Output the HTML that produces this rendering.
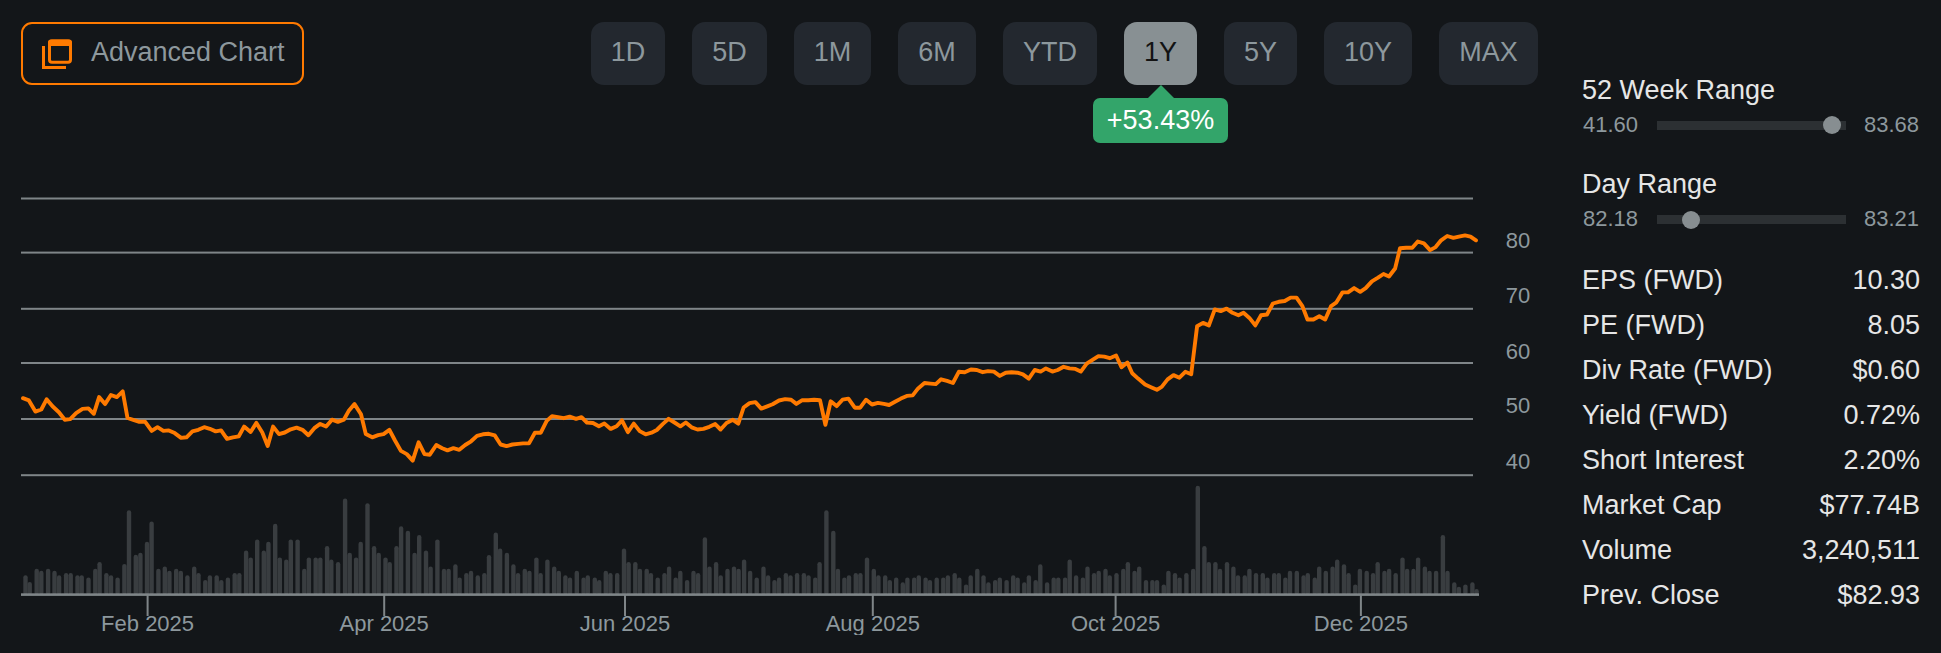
<!DOCTYPE html>
<html><head><meta charset="utf-8">
<style>
html,body{margin:0;padding:0;}
body{width:1941px;height:653px;background:#131619;position:relative;overflow:hidden;font-family:"Liberation Sans",sans-serif;}
.abs{position:absolute;}
#adv{position:absolute;left:21px;top:22px;width:279px;height:59px;border:2px solid #ff7a00;border-radius:11px;box-sizing:content-box;}
#adv span{position:absolute;left:68px;top:13px;font-size:27px;line-height:31px;color:#8d989d;white-space:nowrap;}
.pb{position:absolute;top:22px;height:63px;background:#23282f;border-radius:13px;color:#8d989d;font-size:27px;line-height:60px;text-align:center;}
.pb.act{background:#889093;color:#131313;}
#chg{position:absolute;left:1093px;top:98px;width:135px;height:45px;background:#33a56a;border-radius:7px;color:#fff;font-size:27px;line-height:45px;text-align:center;}
#tri{position:absolute;left:1148px;top:85px;width:0;height:0;border-left:13px solid transparent;border-right:13px solid transparent;border-bottom:13px solid #33a56a;}
.yl{position:absolute;left:1490px;width:56px;text-align:center;font-size:22px;line-height:22px;color:#8d989d;}
.xl{position:absolute;top:611px;width:160px;height:23.5px;overflow:hidden;text-align:center;font-size:22px;line-height:26px;color:#8d989d;}
.rt{position:absolute;left:1582px;font-size:27px;line-height:30px;color:#e6e6e6;white-space:nowrap;}
.rv{position:absolute;font-size:22px;line-height:24px;color:#8d989d;white-space:nowrap;}
.track{position:absolute;left:1657px;width:189px;height:9px;background:#2c3033;}
.knob{position:absolute;width:18px;height:18px;border-radius:50%;background:#878e91;}
.sk{position:absolute;left:1582px;font-size:27px;line-height:30px;color:#e6e6e6;white-space:nowrap;}
.sv{position:absolute;right:21px;font-size:27px;line-height:30px;color:#e6e6e6;white-space:nowrap;text-align:right;}
svg{position:absolute;left:0;top:0;}
</style></head><body>
<svg width="1941" height="653" viewBox="0 0 1941 653">
<rect x="21" y="197.5" width="1452" height="2" fill="#7f8588"/>
<rect x="21" y="251.6" width="1452" height="2" fill="#7f8588"/>
<rect x="21" y="307.8" width="1452" height="2" fill="#7f8588"/>
<rect x="21" y="362.0" width="1452" height="2" fill="#7f8588"/>
<rect x="21" y="418.0" width="1452" height="2" fill="#7f8588"/>
<rect x="21" y="474.2" width="1452" height="2" fill="#7f8588"/>
<rect x="23.30" y="575.3" width="4.4" height="19.3" rx="2.2" fill="#393d40"/>
<rect x="27.50" y="581.9" width="4.4" height="12.7" rx="2.2" fill="#393d40"/>
<rect x="34.50" y="568.8" width="4.4" height="25.8" rx="2.2" fill="#393d40"/>
<rect x="39.10" y="570.7" width="4.4" height="23.9" rx="2.2" fill="#393d40"/>
<rect x="45.90" y="568.8" width="4.4" height="25.8" rx="2.2" fill="#393d40"/>
<rect x="52.30" y="570.7" width="4.4" height="23.9" rx="2.2" fill="#393d40"/>
<rect x="56.90" y="575.3" width="4.4" height="19.3" rx="2.2" fill="#393d40"/>
<rect x="63.90" y="573.1" width="4.4" height="21.5" rx="2.2" fill="#393d40"/>
<rect x="68.50" y="573.1" width="4.4" height="21.5" rx="2.2" fill="#393d40"/>
<rect x="75.30" y="575.3" width="4.4" height="19.3" rx="2.2" fill="#393d40"/>
<rect x="79.50" y="575.3" width="4.4" height="19.3" rx="2.2" fill="#393d40"/>
<rect x="86.30" y="577.6" width="4.4" height="17.0" rx="2.2" fill="#393d40"/>
<rect x="93.10" y="568.8" width="4.4" height="25.8" rx="2.2" fill="#393d40"/>
<rect x="97.40" y="562.0" width="4.4" height="32.6" rx="2.2" fill="#393d40"/>
<rect x="104.20" y="573.1" width="4.4" height="21.5" rx="2.2" fill="#393d40"/>
<rect x="108.80" y="575.3" width="4.4" height="19.3" rx="2.2" fill="#393d40"/>
<rect x="115.40" y="577.6" width="4.4" height="17.0" rx="2.2" fill="#393d40"/>
<rect x="122.20" y="563.9" width="4.4" height="30.7" rx="2.2" fill="#393d40"/>
<rect x="126.80" y="510.2" width="4.4" height="84.4" rx="2.2" fill="#393d40"/>
<rect x="133.60" y="554.7" width="4.4" height="39.9" rx="2.2" fill="#393d40"/>
<rect x="138.20" y="552.8" width="4.4" height="41.8" rx="2.2" fill="#393d40"/>
<rect x="144.80" y="541.8" width="4.4" height="52.8" rx="2.2" fill="#393d40"/>
<rect x="149.40" y="521.6" width="4.4" height="73.0" rx="2.2" fill="#393d40"/>
<rect x="156.20" y="568.8" width="4.4" height="25.8" rx="2.2" fill="#393d40"/>
<rect x="162.60" y="566.6" width="4.4" height="28.0" rx="2.2" fill="#393d40"/>
<rect x="167.20" y="570.7" width="4.4" height="23.9" rx="2.2" fill="#393d40"/>
<rect x="174.00" y="568.8" width="4.4" height="25.8" rx="2.2" fill="#393d40"/>
<rect x="178.60" y="570.7" width="4.4" height="23.9" rx="2.2" fill="#393d40"/>
<rect x="185.20" y="575.3" width="4.4" height="19.3" rx="2.2" fill="#393d40"/>
<rect x="192.00" y="566.6" width="4.4" height="28.0" rx="2.2" fill="#393d40"/>
<rect x="196.30" y="573.1" width="4.4" height="21.5" rx="2.2" fill="#393d40"/>
<rect x="203.10" y="579.9" width="4.4" height="14.7" rx="2.2" fill="#393d40"/>
<rect x="207.70" y="575.3" width="4.4" height="19.3" rx="2.2" fill="#393d40"/>
<rect x="214.50" y="575.3" width="4.4" height="19.3" rx="2.2" fill="#393d40"/>
<rect x="219.10" y="579.9" width="4.4" height="14.7" rx="2.2" fill="#393d40"/>
<rect x="225.70" y="577.6" width="4.4" height="17.0" rx="2.2" fill="#393d40"/>
<rect x="232.50" y="573.1" width="4.4" height="21.5" rx="2.2" fill="#393d40"/>
<rect x="237.10" y="573.1" width="4.4" height="21.5" rx="2.2" fill="#393d40"/>
<rect x="243.90" y="550.6" width="4.4" height="44.0" rx="2.2" fill="#393d40"/>
<rect x="248.50" y="557.4" width="4.4" height="37.2" rx="2.2" fill="#393d40"/>
<rect x="255.00" y="539.4" width="4.4" height="55.2" rx="2.2" fill="#393d40"/>
<rect x="261.60" y="550.6" width="4.4" height="44.0" rx="2.2" fill="#393d40"/>
<rect x="266.20" y="541.8" width="4.4" height="52.8" rx="2.2" fill="#393d40"/>
<rect x="273.00" y="523.8" width="4.4" height="70.8" rx="2.2" fill="#393d40"/>
<rect x="277.60" y="557.4" width="4.4" height="37.2" rx="2.2" fill="#393d40"/>
<rect x="284.10" y="559.6" width="4.4" height="35.0" rx="2.2" fill="#393d40"/>
<rect x="288.60" y="539.4" width="4.4" height="55.2" rx="2.2" fill="#393d40"/>
<rect x="295.40" y="539.4" width="4.4" height="55.2" rx="2.2" fill="#393d40"/>
<rect x="302.10" y="568.8" width="4.4" height="25.8" rx="2.2" fill="#393d40"/>
<rect x="306.70" y="557.4" width="4.4" height="37.2" rx="2.2" fill="#393d40"/>
<rect x="313.50" y="557.4" width="4.4" height="37.2" rx="2.2" fill="#393d40"/>
<rect x="318.10" y="557.4" width="4.4" height="37.2" rx="2.2" fill="#393d40"/>
<rect x="324.90" y="546.0" width="4.4" height="48.6" rx="2.2" fill="#393d40"/>
<rect x="329.10" y="559.6" width="4.4" height="35.0" rx="2.2" fill="#393d40"/>
<rect x="335.90" y="562.0" width="4.4" height="32.6" rx="2.2" fill="#393d40"/>
<rect x="342.90" y="498.6" width="4.4" height="96.0" rx="2.2" fill="#393d40"/>
<rect x="347.50" y="552.8" width="4.4" height="41.8" rx="2.2" fill="#393d40"/>
<rect x="353.90" y="557.4" width="4.4" height="37.2" rx="2.2" fill="#393d40"/>
<rect x="358.50" y="541.8" width="4.4" height="52.8" rx="2.2" fill="#393d40"/>
<rect x="365.30" y="503.2" width="4.4" height="91.4" rx="2.2" fill="#393d40"/>
<rect x="371.90" y="546.0" width="4.4" height="48.6" rx="2.2" fill="#393d40"/>
<rect x="376.50" y="552.8" width="4.4" height="41.8" rx="2.2" fill="#393d40"/>
<rect x="383.30" y="557.4" width="4.4" height="37.2" rx="2.2" fill="#393d40"/>
<rect x="387.50" y="562.0" width="4.4" height="32.6" rx="2.2" fill="#393d40"/>
<rect x="394.30" y="546.0" width="4.4" height="48.6" rx="2.2" fill="#393d40"/>
<rect x="398.90" y="526.2" width="4.4" height="68.4" rx="2.2" fill="#393d40"/>
<rect x="405.70" y="530.8" width="4.4" height="63.8" rx="2.2" fill="#393d40"/>
<rect x="412.40" y="552.8" width="4.4" height="41.8" rx="2.2" fill="#393d40"/>
<rect x="417.00" y="535.0" width="4.4" height="59.6" rx="2.2" fill="#393d40"/>
<rect x="423.80" y="550.6" width="4.4" height="44.0" rx="2.2" fill="#393d40"/>
<rect x="428.40" y="566.6" width="4.4" height="28.0" rx="2.2" fill="#393d40"/>
<rect x="435.20" y="539.4" width="4.4" height="55.2" rx="2.2" fill="#393d40"/>
<rect x="441.80" y="568.8" width="4.4" height="25.8" rx="2.2" fill="#393d40"/>
<rect x="446.40" y="568.8" width="4.4" height="25.8" rx="2.2" fill="#393d40"/>
<rect x="453.20" y="564.2" width="4.4" height="30.4" rx="2.2" fill="#393d40"/>
<rect x="457.40" y="577.6" width="4.4" height="17.0" rx="2.2" fill="#393d40"/>
<rect x="464.20" y="573.1" width="4.4" height="21.5" rx="2.2" fill="#393d40"/>
<rect x="468.80" y="570.7" width="4.4" height="23.9" rx="2.2" fill="#393d40"/>
<rect x="475.60" y="575.3" width="4.4" height="19.3" rx="2.2" fill="#393d40"/>
<rect x="482.20" y="573.1" width="4.4" height="21.5" rx="2.2" fill="#393d40"/>
<rect x="486.80" y="555.0" width="4.4" height="39.6" rx="2.2" fill="#393d40"/>
<rect x="493.60" y="532.6" width="4.4" height="62.0" rx="2.2" fill="#393d40"/>
<rect x="497.90" y="548.6" width="4.4" height="46.0" rx="2.2" fill="#393d40"/>
<rect x="504.70" y="552.8" width="4.4" height="41.8" rx="2.2" fill="#393d40"/>
<rect x="511.20" y="564.2" width="4.4" height="30.4" rx="2.2" fill="#393d40"/>
<rect x="515.80" y="573.1" width="4.4" height="21.5" rx="2.2" fill="#393d40"/>
<rect x="522.60" y="568.8" width="4.4" height="25.8" rx="2.2" fill="#393d40"/>
<rect x="527.20" y="570.7" width="4.4" height="23.9" rx="2.2" fill="#393d40"/>
<rect x="534.20" y="557.4" width="4.4" height="37.2" rx="2.2" fill="#393d40"/>
<rect x="538.40" y="573.1" width="4.4" height="21.5" rx="2.2" fill="#393d40"/>
<rect x="545.20" y="559.6" width="4.4" height="35.0" rx="2.2" fill="#393d40"/>
<rect x="552.00" y="566.6" width="4.4" height="28.0" rx="2.2" fill="#393d40"/>
<rect x="556.60" y="570.7" width="4.4" height="23.9" rx="2.2" fill="#393d40"/>
<rect x="563.20" y="575.3" width="4.4" height="19.3" rx="2.2" fill="#393d40"/>
<rect x="567.80" y="577.6" width="4.4" height="17.0" rx="2.2" fill="#393d40"/>
<rect x="574.60" y="570.7" width="4.4" height="23.9" rx="2.2" fill="#393d40"/>
<rect x="581.40" y="577.6" width="4.4" height="17.0" rx="2.2" fill="#393d40"/>
<rect x="585.60" y="575.3" width="4.4" height="19.3" rx="2.2" fill="#393d40"/>
<rect x="592.60" y="577.6" width="4.4" height="17.0" rx="2.2" fill="#393d40"/>
<rect x="597.00" y="579.9" width="4.4" height="14.7" rx="2.2" fill="#393d40"/>
<rect x="603.60" y="570.7" width="4.4" height="23.9" rx="2.2" fill="#393d40"/>
<rect x="608.20" y="573.1" width="4.4" height="21.5" rx="2.2" fill="#393d40"/>
<rect x="615.00" y="573.1" width="4.4" height="21.5" rx="2.2" fill="#393d40"/>
<rect x="621.80" y="548.6" width="4.4" height="46.0" rx="2.2" fill="#393d40"/>
<rect x="626.40" y="562.0" width="4.4" height="32.6" rx="2.2" fill="#393d40"/>
<rect x="633.10" y="562.0" width="4.4" height="32.6" rx="2.2" fill="#393d40"/>
<rect x="637.70" y="568.8" width="4.4" height="25.8" rx="2.2" fill="#393d40"/>
<rect x="644.50" y="568.8" width="4.4" height="25.8" rx="2.2" fill="#393d40"/>
<rect x="648.70" y="573.1" width="4.4" height="21.5" rx="2.2" fill="#393d40"/>
<rect x="655.50" y="577.6" width="4.4" height="17.0" rx="2.2" fill="#393d40"/>
<rect x="662.30" y="573.1" width="4.4" height="21.5" rx="2.2" fill="#393d40"/>
<rect x="666.90" y="566.6" width="4.4" height="28.0" rx="2.2" fill="#393d40"/>
<rect x="673.50" y="577.6" width="4.4" height="17.0" rx="2.2" fill="#393d40"/>
<rect x="678.10" y="570.7" width="4.4" height="23.9" rx="2.2" fill="#393d40"/>
<rect x="684.90" y="579.9" width="4.4" height="14.7" rx="2.2" fill="#393d40"/>
<rect x="691.30" y="570.7" width="4.4" height="23.9" rx="2.2" fill="#393d40"/>
<rect x="695.90" y="573.1" width="4.4" height="21.5" rx="2.2" fill="#393d40"/>
<rect x="702.70" y="537.2" width="4.4" height="57.4" rx="2.2" fill="#393d40"/>
<rect x="707.30" y="566.6" width="4.4" height="28.0" rx="2.2" fill="#393d40"/>
<rect x="713.90" y="562.0" width="4.4" height="32.6" rx="2.2" fill="#393d40"/>
<rect x="718.50" y="575.3" width="4.4" height="19.3" rx="2.2" fill="#393d40"/>
<rect x="725.30" y="568.8" width="4.4" height="25.8" rx="2.2" fill="#393d40"/>
<rect x="731.80" y="566.6" width="4.4" height="28.0" rx="2.2" fill="#393d40"/>
<rect x="736.40" y="568.8" width="4.4" height="25.8" rx="2.2" fill="#393d40"/>
<rect x="741.90" y="559.6" width="4.4" height="35.0" rx="2.2" fill="#393d40"/>
<rect x="747.90" y="570.7" width="4.4" height="23.9" rx="2.2" fill="#393d40"/>
<rect x="754.50" y="577.6" width="4.4" height="17.0" rx="2.2" fill="#393d40"/>
<rect x="761.30" y="566.6" width="4.4" height="28.0" rx="2.2" fill="#393d40"/>
<rect x="765.90" y="575.3" width="4.4" height="19.3" rx="2.2" fill="#393d40"/>
<rect x="772.30" y="579.9" width="4.4" height="14.7" rx="2.2" fill="#393d40"/>
<rect x="776.90" y="577.6" width="4.4" height="17.0" rx="2.2" fill="#393d40"/>
<rect x="783.70" y="573.1" width="4.4" height="21.5" rx="2.2" fill="#393d40"/>
<rect x="788.30" y="575.3" width="4.4" height="19.3" rx="2.2" fill="#393d40"/>
<rect x="794.90" y="573.1" width="4.4" height="21.5" rx="2.2" fill="#393d40"/>
<rect x="801.70" y="573.1" width="4.4" height="21.5" rx="2.2" fill="#393d40"/>
<rect x="806.30" y="575.3" width="4.4" height="19.3" rx="2.2" fill="#393d40"/>
<rect x="813.10" y="577.6" width="4.4" height="17.0" rx="2.2" fill="#393d40"/>
<rect x="817.40" y="562.0" width="4.4" height="32.6" rx="2.2" fill="#393d40"/>
<rect x="824.20" y="510.2" width="4.4" height="84.4" rx="2.2" fill="#393d40"/>
<rect x="831.10" y="530.8" width="4.4" height="63.8" rx="2.2" fill="#393d40"/>
<rect x="835.70" y="568.8" width="4.4" height="25.8" rx="2.2" fill="#393d40"/>
<rect x="842.20" y="577.6" width="4.4" height="17.0" rx="2.2" fill="#393d40"/>
<rect x="846.80" y="575.3" width="4.4" height="19.3" rx="2.2" fill="#393d40"/>
<rect x="853.60" y="573.1" width="4.4" height="21.5" rx="2.2" fill="#393d40"/>
<rect x="858.20" y="573.1" width="4.4" height="21.5" rx="2.2" fill="#393d40"/>
<rect x="864.80" y="557.4" width="4.4" height="37.2" rx="2.2" fill="#393d40"/>
<rect x="871.60" y="568.8" width="4.4" height="25.8" rx="2.2" fill="#393d40"/>
<rect x="876.20" y="575.3" width="4.4" height="19.3" rx="2.2" fill="#393d40"/>
<rect x="883.00" y="575.3" width="4.4" height="19.3" rx="2.2" fill="#393d40"/>
<rect x="887.60" y="579.9" width="4.4" height="14.7" rx="2.2" fill="#393d40"/>
<rect x="894.00" y="577.6" width="4.4" height="17.0" rx="2.2" fill="#393d40"/>
<rect x="900.60" y="582.2" width="4.4" height="12.4" rx="2.2" fill="#393d40"/>
<rect x="905.20" y="577.6" width="4.4" height="17.0" rx="2.2" fill="#393d40"/>
<rect x="912.00" y="577.6" width="4.4" height="17.0" rx="2.2" fill="#393d40"/>
<rect x="916.60" y="575.3" width="4.4" height="19.3" rx="2.2" fill="#393d40"/>
<rect x="923.40" y="577.6" width="4.4" height="17.0" rx="2.2" fill="#393d40"/>
<rect x="927.70" y="579.9" width="4.4" height="14.7" rx="2.2" fill="#393d40"/>
<rect x="934.50" y="577.6" width="4.4" height="17.0" rx="2.2" fill="#393d40"/>
<rect x="941.10" y="577.6" width="4.4" height="17.0" rx="2.2" fill="#393d40"/>
<rect x="945.70" y="575.3" width="4.4" height="19.3" rx="2.2" fill="#393d40"/>
<rect x="952.50" y="573.1" width="4.4" height="21.5" rx="2.2" fill="#393d40"/>
<rect x="957.10" y="577.6" width="4.4" height="17.0" rx="2.2" fill="#393d40"/>
<rect x="963.90" y="584.4" width="4.4" height="10.2" rx="2.2" fill="#393d40"/>
<rect x="968.50" y="575.3" width="4.4" height="19.3" rx="2.2" fill="#393d40"/>
<rect x="975.10" y="568.8" width="4.4" height="25.8" rx="2.2" fill="#393d40"/>
<rect x="981.30" y="575.3" width="4.4" height="19.3" rx="2.2" fill="#393d40"/>
<rect x="986.20" y="582.2" width="4.4" height="12.4" rx="2.2" fill="#393d40"/>
<rect x="993.00" y="579.9" width="4.4" height="14.7" rx="2.2" fill="#393d40"/>
<rect x="997.60" y="577.6" width="4.4" height="17.0" rx="2.2" fill="#393d40"/>
<rect x="1004.40" y="579.9" width="4.4" height="14.7" rx="2.2" fill="#393d40"/>
<rect x="1011.00" y="575.3" width="4.4" height="19.3" rx="2.2" fill="#393d40"/>
<rect x="1015.40" y="577.6" width="4.4" height="17.0" rx="2.2" fill="#393d40"/>
<rect x="1022.10" y="582.2" width="4.4" height="12.4" rx="2.2" fill="#393d40"/>
<rect x="1026.70" y="575.3" width="4.4" height="19.3" rx="2.2" fill="#393d40"/>
<rect x="1033.50" y="579.9" width="4.4" height="14.7" rx="2.2" fill="#393d40"/>
<rect x="1038.10" y="564.2" width="4.4" height="30.4" rx="2.2" fill="#393d40"/>
<rect x="1044.90" y="582.2" width="4.4" height="12.4" rx="2.2" fill="#393d40"/>
<rect x="1051.50" y="577.6" width="4.4" height="17.0" rx="2.2" fill="#393d40"/>
<rect x="1056.10" y="577.6" width="4.4" height="17.0" rx="2.2" fill="#393d40"/>
<rect x="1062.90" y="577.6" width="4.4" height="17.0" rx="2.2" fill="#393d40"/>
<rect x="1067.50" y="559.6" width="4.4" height="35.0" rx="2.2" fill="#393d40"/>
<rect x="1073.90" y="575.3" width="4.4" height="19.3" rx="2.2" fill="#393d40"/>
<rect x="1080.70" y="577.6" width="4.4" height="17.0" rx="2.2" fill="#393d40"/>
<rect x="1085.30" y="566.6" width="4.4" height="28.0" rx="2.2" fill="#393d40"/>
<rect x="1091.90" y="573.1" width="4.4" height="21.5" rx="2.2" fill="#393d40"/>
<rect x="1096.50" y="570.7" width="4.4" height="23.9" rx="2.2" fill="#393d40"/>
<rect x="1103.30" y="568.8" width="4.4" height="25.8" rx="2.2" fill="#393d40"/>
<rect x="1107.50" y="575.3" width="4.4" height="19.3" rx="2.2" fill="#393d40"/>
<rect x="1114.30" y="573.1" width="4.4" height="21.5" rx="2.2" fill="#393d40"/>
<rect x="1121.10" y="568.8" width="4.4" height="25.8" rx="2.2" fill="#393d40"/>
<rect x="1125.70" y="562.0" width="4.4" height="32.6" rx="2.2" fill="#393d40"/>
<rect x="1132.40" y="570.7" width="4.4" height="23.9" rx="2.2" fill="#393d40"/>
<rect x="1137.00" y="566.6" width="4.4" height="28.0" rx="2.2" fill="#393d40"/>
<rect x="1143.80" y="579.9" width="4.4" height="14.7" rx="2.2" fill="#393d40"/>
<rect x="1150.20" y="579.9" width="4.4" height="14.7" rx="2.2" fill="#393d40"/>
<rect x="1154.80" y="579.9" width="4.4" height="14.7" rx="2.2" fill="#393d40"/>
<rect x="1161.60" y="584.4" width="4.4" height="10.2" rx="2.2" fill="#393d40"/>
<rect x="1166.20" y="570.7" width="4.4" height="23.9" rx="2.2" fill="#393d40"/>
<rect x="1172.80" y="573.1" width="4.4" height="21.5" rx="2.2" fill="#393d40"/>
<rect x="1177.40" y="577.6" width="4.4" height="17.0" rx="2.2" fill="#393d40"/>
<rect x="1184.20" y="573.1" width="4.4" height="21.5" rx="2.2" fill="#393d40"/>
<rect x="1191.00" y="568.8" width="4.4" height="25.8" rx="2.2" fill="#393d40"/>
<rect x="1195.60" y="485.7" width="4.4" height="108.9" rx="2.2" fill="#393d40"/>
<rect x="1202.20" y="546.0" width="4.4" height="48.6" rx="2.2" fill="#393d40"/>
<rect x="1206.60" y="562.0" width="4.4" height="32.6" rx="2.2" fill="#393d40"/>
<rect x="1213.20" y="562.0" width="4.4" height="32.6" rx="2.2" fill="#393d40"/>
<rect x="1217.80" y="568.8" width="4.4" height="25.8" rx="2.2" fill="#393d40"/>
<rect x="1224.80" y="562.0" width="4.4" height="32.6" rx="2.2" fill="#393d40"/>
<rect x="1231.20" y="566.6" width="4.4" height="28.0" rx="2.2" fill="#393d40"/>
<rect x="1235.80" y="575.3" width="4.4" height="19.3" rx="2.2" fill="#393d40"/>
<rect x="1242.60" y="575.3" width="4.4" height="19.3" rx="2.2" fill="#393d40"/>
<rect x="1247.20" y="568.8" width="4.4" height="25.8" rx="2.2" fill="#393d40"/>
<rect x="1253.80" y="573.1" width="4.4" height="21.5" rx="2.2" fill="#393d40"/>
<rect x="1260.60" y="573.1" width="4.4" height="21.5" rx="2.2" fill="#393d40"/>
<rect x="1265.20" y="577.6" width="4.4" height="17.0" rx="2.2" fill="#393d40"/>
<rect x="1272.00" y="573.1" width="4.4" height="21.5" rx="2.2" fill="#393d40"/>
<rect x="1276.60" y="573.1" width="4.4" height="21.5" rx="2.2" fill="#393d40"/>
<rect x="1283.20" y="577.6" width="4.4" height="17.0" rx="2.2" fill="#393d40"/>
<rect x="1287.80" y="570.7" width="4.4" height="23.9" rx="2.2" fill="#393d40"/>
<rect x="1294.60" y="570.7" width="4.4" height="23.9" rx="2.2" fill="#393d40"/>
<rect x="1301.40" y="575.3" width="4.4" height="19.3" rx="2.2" fill="#393d40"/>
<rect x="1305.60" y="573.1" width="4.4" height="21.5" rx="2.2" fill="#393d40"/>
<rect x="1312.60" y="577.6" width="4.4" height="17.0" rx="2.2" fill="#393d40"/>
<rect x="1317.00" y="566.6" width="4.4" height="28.0" rx="2.2" fill="#393d40"/>
<rect x="1323.60" y="570.7" width="4.4" height="23.9" rx="2.2" fill="#393d40"/>
<rect x="1330.40" y="566.6" width="4.4" height="28.0" rx="2.2" fill="#393d40"/>
<rect x="1335.00" y="559.6" width="4.4" height="35.0" rx="2.2" fill="#393d40"/>
<rect x="1341.80" y="564.2" width="4.4" height="30.4" rx="2.2" fill="#393d40"/>
<rect x="1346.40" y="573.1" width="4.4" height="21.5" rx="2.2" fill="#393d40"/>
<rect x="1353.10" y="584.4" width="4.4" height="10.2" rx="2.2" fill="#393d40"/>
<rect x="1357.70" y="568.8" width="4.4" height="25.8" rx="2.2" fill="#393d40"/>
<rect x="1364.50" y="570.7" width="4.4" height="23.9" rx="2.2" fill="#393d40"/>
<rect x="1370.90" y="573.1" width="4.4" height="21.5" rx="2.2" fill="#393d40"/>
<rect x="1375.50" y="562.0" width="4.4" height="32.6" rx="2.2" fill="#393d40"/>
<rect x="1382.30" y="570.7" width="4.4" height="23.9" rx="2.2" fill="#393d40"/>
<rect x="1386.90" y="568.8" width="4.4" height="25.8" rx="2.2" fill="#393d40"/>
<rect x="1393.50" y="573.1" width="4.4" height="21.5" rx="2.2" fill="#393d40"/>
<rect x="1400.30" y="557.4" width="4.4" height="37.2" rx="2.2" fill="#393d40"/>
<rect x="1404.90" y="568.8" width="4.4" height="25.8" rx="2.2" fill="#393d40"/>
<rect x="1411.30" y="568.8" width="4.4" height="25.8" rx="2.2" fill="#393d40"/>
<rect x="1415.90" y="557.4" width="4.4" height="37.2" rx="2.2" fill="#393d40"/>
<rect x="1422.70" y="566.6" width="4.4" height="28.0" rx="2.2" fill="#393d40"/>
<rect x="1427.30" y="570.7" width="4.4" height="23.9" rx="2.2" fill="#393d40"/>
<rect x="1433.90" y="570.7" width="4.4" height="23.9" rx="2.2" fill="#393d40"/>
<rect x="1440.70" y="535.0" width="4.4" height="59.6" rx="2.2" fill="#393d40"/>
<rect x="1445.30" y="570.7" width="4.4" height="23.9" rx="2.2" fill="#393d40"/>
<rect x="1452.10" y="582.2" width="4.4" height="12.4" rx="2.2" fill="#393d40"/>
<rect x="1456.70" y="586.8" width="4.4" height="7.8" rx="2.2" fill="#393d40"/>
<rect x="1463.20" y="584.4" width="4.4" height="10.2" rx="2.2" fill="#393d40"/>
<rect x="1470.20" y="582.2" width="4.4" height="12.4" rx="2.2" fill="#393d40"/>
<rect x="1474.40" y="589.0" width="4.4" height="5.6" rx="2.2" fill="#393d40"/>
<rect x="21" y="593.3" width="1458" height="2.6" fill="#7f8588"/>
<rect x="146.6" y="594" width="2" height="22" fill="#7f8588"/>
<rect x="383.2" y="594" width="2" height="22" fill="#7f8588"/>
<rect x="624.0" y="594" width="2" height="22" fill="#7f8588"/>
<rect x="871.8" y="594" width="2" height="22" fill="#7f8588"/>
<rect x="1114.6" y="594" width="2" height="22" fill="#7f8588"/>
<rect x="1359.9" y="594" width="2" height="22" fill="#7f8588"/>
<path d="M23.0,398.2 L28.9,400.4 L35.4,411.6 L41.3,409.5 L46.6,399.3 L52.5,406.3 L58.9,412.2 L64.8,419.7 L70.2,419.1 L76.1,413.2 L82.5,408.9 L88.4,408.4 L93.8,413.8 L99.1,397.1 L105.0,404.1 L110.9,395.0 L116.8,397.1 L122.7,391.3 L127.5,418.0 L134.0,420.2 L139.3,421.8 L145.2,421.8 L151.7,430.9 L157.5,427.2 L163.4,430.9 L168.8,430.4 L174.7,433.1 L181.1,437.9 L186.5,437.3 L192.4,431.4 L198.3,429.8 L204.2,427.2 L209.8,428.8 L215.7,431.4 L221.1,430.4 L227.0,438.9 L232.9,437.3 L238.8,436.3 L244.1,426.6 L250.6,432.0 L256.4,422.9 L262.3,432.5 L267.7,445.9 L273.1,426.6 L279.0,434.1 L284.8,432.5 L290.7,429.3 L296.6,427.7 L302.5,429.8 L308.4,435.2 L314.3,428.2 L320.2,423.9 L326.1,426.6 L332.0,419.7 L337.9,421.8 L343.8,419.7 L348.6,411.1 L354.5,404.1 L361.0,414.3 L365.8,434.1 L372.2,437.3 L378.1,435.2 L383.5,434.1 L389.4,429.8 L395.0,440.5 L400.9,450.9 L406.8,454.1 L412.7,460.6 L418.6,442.3 L424.5,454.1 L429.8,454.7 L436.3,445.0 L442.2,448.2 L447.5,450.4 L453.4,448.2 L459.3,449.8 L465.2,445.0 L471.1,441.3 L477.0,435.9 L482.9,434.3 L488.8,433.8 L494.7,435.4 L500.6,444.5 L506.5,446.1 L512.4,444.5 L518.3,443.9 L523.1,443.4 L529.0,443.4 L534.9,432.7 L540.8,432.7 L546.7,420.9 L552.0,416.1 L557.9,417.1 L563.8,418.2 L569.7,416.6 L576.1,418.8 L581.5,417.1 L586.9,422.5 L593.0,423.0 L598.9,426.3 L604.3,423.6 L610.7,428.9 L616.6,426.3 L622.0,420.4 L627.9,432.2 L633.8,423.6 L639.7,431.1 L645.6,434.3 L651.5,432.7 L656.8,430.0 L662.7,424.1 L668.6,418.8 L674.5,422.5 L680.4,426.3 L685.8,422.5 L691.6,427.3 L697.5,429.5 L703.4,428.9 L709.3,426.8 L715.2,424.1 L720.6,429.5 L726.5,423.0 L732.9,419.8 L738.3,423.6 L743.6,407.5 L749.5,403.2 L755.4,402.1 L761.3,408.6 L767.2,406.4 L772.6,404.3 L779.0,400.5 L785.2,399.1 L791.1,399.7 L796.4,403.9 L802.3,400.2 L808.2,400.2 L814.1,399.7 L820.0,400.2 L825.4,424.8 L830.7,401.3 L836.6,406.1 L842.5,399.7 L848.4,398.6 L854.8,407.7 L860.2,407.7 L866.1,399.7 L872.0,404.5 L877.9,402.9 L883.8,403.9 L889.1,405.0 L895.0,401.8 L900.9,398.6 L906.8,395.9 L912.7,395.4 L918.1,388.4 L924.5,383.0 L930.4,383.6 L935.8,384.1 L941.1,379.3 L947.0,380.9 L952.9,383.0 L958.8,371.8 L964.7,372.3 L970.9,369.5 L976.8,370.0 L982.7,372.2 L988.0,371.1 L993.9,371.6 L999.8,375.9 L1005.7,372.7 L1011.6,372.2 L1017.5,372.7 L1022.9,374.3 L1028.8,378.6 L1034.7,370.0 L1040.6,371.6 L1045.9,368.4 L1052.4,371.6 L1057.7,370.0 L1063.6,366.8 L1069.5,368.4 L1075.4,368.9 L1080.8,371.6 L1086.7,363.6 L1092.5,359.8 L1098.4,356.1 L1104.3,356.6 L1109.7,358.2 L1116.1,355.5 L1121.5,367.3 L1127.4,362.5 L1132.2,373.2 L1138.1,378.6 L1145.1,384.5 L1151.0,387.2 L1156.9,389.8 L1161.7,386.9 L1167.6,379.4 L1173.5,375.1 L1179.4,377.7 L1185.3,371.8 L1191.2,374.3 L1197.1,326.3 L1203.0,322.9 L1208.9,325.4 L1214.8,309.4 L1220.7,311.1 L1226.6,308.6 L1232.5,312.8 L1238.4,315.3 L1243.5,312.8 L1249.4,317.9 L1255.3,325.4 L1261.1,315.3 L1267.0,314.5 L1272.9,303.5 L1278.8,301.8 L1284.7,301.0 L1290.6,297.6 L1296.5,297.6 L1302.4,306.1 L1307.5,319.5 L1313.4,319.5 L1319.3,316.2 L1325.2,319.5 L1331.1,306.1 L1336.1,302.7 L1342.5,292.4 L1348.0,292.4 L1354.1,288.1 L1360.2,291.8 L1365.7,288.1 L1371.9,281.4 L1378.0,277.7 L1383.5,274.0 L1389.0,276.5 L1395.1,268.5 L1400.0,248.3 L1406.2,247.7 L1412.3,247.7 L1417.8,241.5 L1423.9,243.4 L1430.1,250.1 L1435.6,247.1 L1441.1,240.3 L1447.2,236.0 L1453.4,237.9 L1458.9,236.6 L1465.0,235.4 L1470.5,236.6 L1476.0,240.3" fill="none" stroke="#ff7a00" stroke-width="3.9" stroke-linejoin="round" stroke-linecap="round"/>
</svg>
<div id="adv">
<svg width="40" height="40" viewBox="0 0 40 40" style="left:19px;top:15px">
<path d="M1.5,7 V28.5 H24" fill="none" stroke="#ff7a00" stroke-width="3"/>
<rect x="7.5" y="2" width="21" height="21.2" rx="2.5" fill="none" stroke="#ff7a00" stroke-width="3"/>
<rect x="6" y="0.5" width="24" height="6.5" rx="3" fill="#ff7a00"/>
</svg>
<span>Advanced Chart</span></div>
<div class="pb" style="left:591px;width:74px">1D</div>
<div class="pb" style="left:692px;width:75px">5D</div>
<div class="pb" style="left:794px;width:77px">1M</div>
<div class="pb" style="left:898px;width:78px">6M</div>
<div class="pb" style="left:1003px;width:94px">YTD</div>
<div class="pb act" style="left:1124px;width:73px">1Y</div>
<div class="pb" style="left:1224px;width:73px">5Y</div>
<div class="pb" style="left:1324px;width:88px">10Y</div>
<div class="pb" style="left:1439px;width:99px">MAX</div>
<div id="tri"></div>
<div id="chg">+53.43%</div>
<div class="yl" style="top:230.4px">80</div>
<div class="yl" style="top:284.5px">70</div>
<div class="yl" style="top:340.9px">60</div>
<div class="yl" style="top:395.1px">50</div>
<div class="yl" style="top:451.2px">40</div>
<div class="xl" style="left:67.6px">Feb 2025</div>
<div class="xl" style="left:304.2px">Apr 2025</div>
<div class="xl" style="left:545.0px">Jun 2025</div>
<div class="xl" style="left:792.8px">Aug 2025</div>
<div class="xl" style="left:1035.6px">Oct 2025</div>
<div class="xl" style="left:1280.9px">Dec 2025</div>
<div class="rt" style="top:75px">52 Week Range</div>
<div class="rv" style="left:1583px;top:113px">41.60</div>
<div class="track" style="top:121px"></div>
<div class="knob" style="left:1823px;top:116px"></div>
<div class="rv" style="right:22px;top:113px">83.68</div>
<div class="rt" style="top:169px">Day Range</div>
<div class="rv" style="left:1583px;top:207px">82.18</div>
<div class="track" style="top:215px"></div>
<div class="knob" style="left:1682px;top:211px"></div>
<div class="rv" style="right:22px;top:207px">83.21</div>
<div class="sk" style="top:264.8px">EPS (FWD)</div><div class="sv" style="top:264.8px">10.30</div>
<div class="sk" style="top:309.8px">PE (FWD)</div><div class="sv" style="top:309.8px">8.05</div>
<div class="sk" style="top:354.8px">Div Rate (FWD)</div><div class="sv" style="top:354.8px">$0.60</div>
<div class="sk" style="top:399.8px">Yield (FWD)</div><div class="sv" style="top:399.8px">0.72%</div>
<div class="sk" style="top:444.8px">Short Interest</div><div class="sv" style="top:444.8px">2.20%</div>
<div class="sk" style="top:489.8px">Market Cap</div><div class="sv" style="top:489.8px">$77.74B</div>
<div class="sk" style="top:534.8px">Volume</div><div class="sv" style="top:534.8px">3,240,511</div>
<div class="sk" style="top:579.8px">Prev. Close</div><div class="sv" style="top:579.8px">$82.93</div>
</body></html>
